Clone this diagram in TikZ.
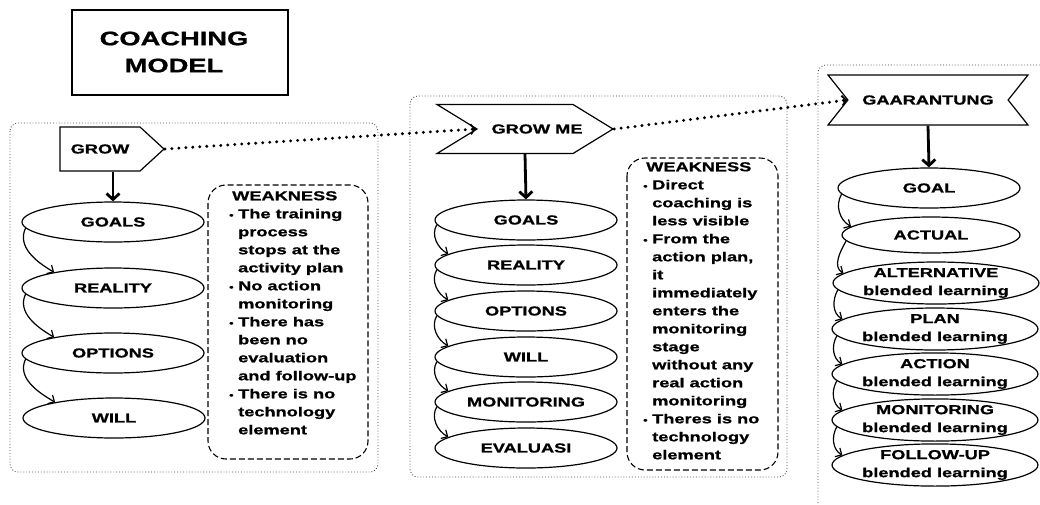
\documentclass[tikz,border=0pt]{standalone}
\usepackage{fontspec}
\setmainfont{Liberation Sans}[FakeStretch=1.4,FakeBold=1]
\usetikzlibrary{shapes.geometric,shapes.symbols,arrows.meta}

\newcommand{\wkb}{\makebox[9pt][l]{\fontsize{9}{9}\selectfont\textbullet}}
\newcommand{\wki}{\hspace*{9pt}}

\tikzset{
  stage/.style={draw, ellipse, line width=1.2pt, minimum width=182pt, minimum height=40pt,
    inner sep=0pt, align=center, font=\bfseries\fontsize{13}{18}\selectfont},
  tag/.style={draw, signal, line width=1.2pt, inner sep=0pt, font=\bfseries\fontsize{13}{15}\selectfont},
  panel/.style={draw=black!70, dotted, line width=0.9pt, rounded corners=8pt},
  weakbox/.style={draw, dash pattern=on 6pt off 3pt, line width=1.1pt, rounded corners=18pt},
  weaktext/.style={anchor=north west, inner sep=0pt, align=left, font=\bfseries\fontsize{13}{18}\selectfont},
  downarrow/.style={line width=2.8pt, -{Straight Barb[length=6pt,width=13pt]}},
  nextarrow/.style={line width=1.2pt, -{Straight Barb[length=5pt,width=10pt]}},
  dotlink/.style={line width=3.3pt, line cap=round, dash pattern=on 0pt off 7pt,
    -{Straight Barb[length=4pt,width=10pt,line width=1.8pt]}}
}

\begin{document}
\begin{tikzpicture}[x=1pt,y=-1pt]
\useasboundingbox (0,0) rectangle (1040,504);
\clip (0,0) rectangle (1040,504);

% title
\draw[line width=1.4pt] (72,10) rectangle (288,95);
\node[font=\bfseries\fontsize{19.5}{27}\selectfont, align=center] (title) at (174,52) {COACHING\\MODEL};

% panels
\draw[panel] (10,123) rectangle (378,472);
\draw[panel] (410,96) rectangle (787,477);
\draw[panel] (1060,65) -- (818,65) -- (818,530);

% GROW
\node[tag, signal to=east, signal pointer angle=85, minimum width=104pt, minimum height=44pt] (grow) at (100,149) {GROW};

\node[stage] (goalsA) at (113,222) {GOALS};
\node[stage] (realityA) at (113,288) {REALITY};
\node[stage] (optionsA) at (113,353) {OPTIONS};
\node[stage] (willA) at (114,418) {WILL};

\draw[downarrow] (goalsA.north |- grow.south) -- (goalsA.north);
\draw[nextarrow] (goalsA.184) to[out=-115,in=150] (realityA.165);
\draw[nextarrow] (realityA.184) to[out=-115,in=150] (optionsA.165);
\draw[nextarrow] (optionsA.184) to[out=-115,in=150] (willA.165);

\draw[weakbox] (208,185) rectangle (368,459);
\node[weaktext] (weakA) at (229,191) {\hspace*{3pt}WEAKNESS\\
\wkb The training\\ \wki process\\ \wki stops at the\\ \wki activity plan\\
\wkb No action\\ \wki monitoring\\
\wkb There has\\ \wki been no\\ \wki evaluation\\ \wki and follow-up\\
\wkb There is no\\ \wki technology\\ \wki element};

% GROW ME
\node[tag, signal to=east, signal from=west, signal pointer angle=63, minimum width=176pt, minimum height=49pt] (growme) at (525,129) {\hspace*{12pt}GROW ME\hspace*{-12pt}};

\node[stage] (goalsB) at (526,220) {GOALS};
\node[stage] (realityB) at (526,265) {REALITY};
\node[stage] (optionsB) at (526,311) {OPTIONS};
\node[stage] (willB) at (526,357) {WILL};
\node[stage] (monitorB) at (526,402) {MONITORING};
\node[stage] (evalB) at (526,448) {EVALUASI};

\draw[downarrow] (growme.south) -- (goalsB.north);
\draw[nextarrow] (goalsB.183) to[out=-120,in=150] (realityB.172);
\draw[nextarrow] (realityB.183) to[out=-120,in=150] (optionsB.172);
\draw[nextarrow] (optionsB.183) to[out=-120,in=150] (willB.172);
\draw[nextarrow] (willB.183) to[out=-120,in=150] (monitorB.172);
\draw[nextarrow] (monitorB.183) to[out=-120,in=150] (evalB.172);

\draw[weakbox] (627,158) rectangle (778,470);
\node[weaktext] (weakB) at (643,162) {\hspace*{3pt}WEAKNESS\\
\wkb Direct\\ \wki coaching is\\ \wki less visible\\
\wkb From the\\ \wki action plan,\\ \wki it\\ \wki immediately\\ \wki enters the\\
\wki monitoring\\ \wki stage\\ \wki without any\\ \wki real action\\ \wki monitoring\\
\wkb Theres is no\\ \wki technology\\ \wki element};

% GAARANTUNG
\node[tag, signal to=nowhere, signal from=west and east, signal pointer angle=103, minimum width=200pt, minimum height=50pt] (gaar) at (928,100) {GAARANTUNG};

\node[stage] (goalC) at (929,188) {GOAL};
\node[stage, minimum width=178pt, minimum height=36pt] (actualC) at (931,235) {ACTUAL};
\node[stage, minimum height=38pt] (altC) at (936,283) {ALTERNATIVE\\blended learning};
\node[stage, minimum width=176pt, minimum height=38pt] (planC) at (935,329) {PLAN\\blended learning};
\node[stage, minimum width=176pt, minimum height=38pt] (actionC) at (935,374) {ACTION\\blended learning};
\node[stage, minimum width=176pt, minimum height=38pt] (monitorC) at (935,420) {MONITORING\\blended learning};
\node[stage, minimum width=176pt, minimum height=38pt] (followC) at (935,465) {FOLLOW-UP\\blended learning};

\draw[downarrow] (gaar.south) -- (goalC.north);
\draw[nextarrow] (goalC.184) to[out=-120,in=150] (actualC.174);
\draw[nextarrow] (actualC.184) to[out=-120,in=150] (altC.174);
\draw[nextarrow] (altC.184) to[out=-120,in=150] (planC.174);
\draw[nextarrow] (planC.184) to[out=-120,in=150] (actionC.174);
\draw[nextarrow] (actionC.184) to[out=-120,in=150] (monitorC.174);
\draw[nextarrow] (monitorC.184) to[out=-120,in=150] (followC.174);

% links between models
\draw[dotlink] (grow.east) -- (growme.west);
\draw[dotlink] (growme.east) -- (gaar.west);

\end{tikzpicture}
\end{document}
